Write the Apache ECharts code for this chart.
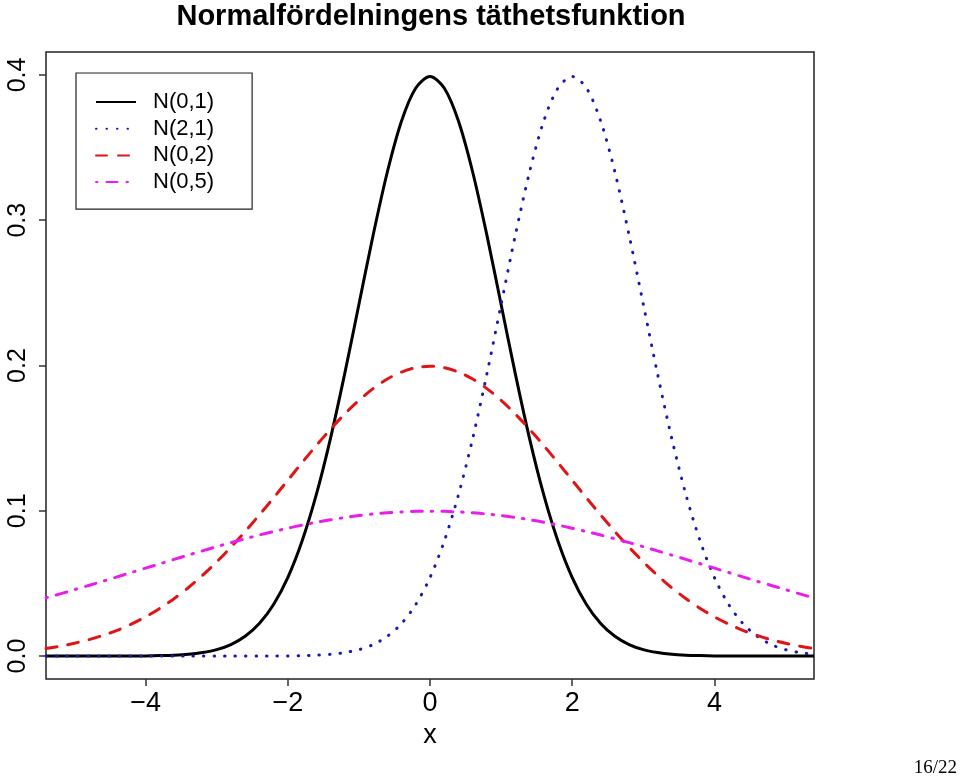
<!DOCTYPE html>
<html>
<head>
<meta charset="utf-8">
<script src="https://cdn.jsdelivr.net/npm/echarts@6/dist/echarts.min.js"></script>
<style>
html,body{margin:0;padding:0;background:#fff;}
#c{width:960px;height:779px;}
</style>
</head>
<body>
<div id="c"></div>
<script>
const titleText = 'Normalfördelningens täthetsfunktion';
const xName = 'x';
const pageLabel = '16/22';
const seriesNames = ['N(0,1)', 'N(2,1)', 'N(0,2)', 'N(0,5)'];
const xTicks = [-4, -2, 0, 2, 4];
const yTicks = [0, 0.1, 0.2, 0.3, 0.4];

const xs = [-5.4,-5.2,-5.0,-4.8,-4.6,-4.4,-4.2,-4.0,-3.8,-3.6,-3.4,-3.2,-3.0,-2.8,-2.6,-2.4,-2.2,-2.0,-1.8,-1.6,-1.4,-1.2,-1.0,-0.8,-0.6,-0.4,-0.2,0,
  0.2,0.4,0.6,0.8,1.0,1.2,1.4,1.6,1.8,2.0,2.2,2.4,2.6,2.8,3.0,3.2,3.4,3.6,3.8,4.0,4.2,4.4,4.6,4.8,5.0,5.2,5.4];

const n01 = [0,0,0,0,0,0,0,0.0001,0.0003,0.0006,0.0012,0.0024,0.0044,0.0079,0.0136,0.0224,0.0355,0.0540,0.0790,0.1109,0.1497,0.1942,0.2420,0.2897,0.3332,0.3683,0.3910,0.3989,
  0.3910,0.3683,0.3332,0.2897,0.2420,0.1942,0.1497,0.1109,0.0790,0.0540,0.0355,0.0224,0.0136,0.0079,0.0044,0.0024,0.0012,0.0006,0.0003,0.0001,0,0,0,0,0,0,0];

const n21 = [0,0,0,0,0,0,0,0,0,0,0,0,0,0,0,0,0,0.0001,0.0003,0.0006,0.0012,0.0024,0.0044,0.0079,0.0136,0.0224,0.0355,0.0540,
  0.0790,0.1109,0.1497,0.1942,0.2420,0.2897,0.3332,0.3683,0.3910,0.3989,0.3910,0.3683,0.3332,0.2897,0.2420,0.1942,0.1497,0.1109,0.0790,0.0540,0.0355,0.0224,0.0136,0.0079,0.0044,0.0024,0.0012];

const n02 = [0.0052,0.0068,0.0088,0.0112,0.0142,0.0177,0.0220,0.0270,0.0328,0.0395,0.0470,0.0555,0.0648,0.0749,0.0857,0.0971,0.1089,0.1210,0.1331,0.1449,0.1561,0.1666,0.1760,0.1841,0.1907,0.1955,0.1985,0.1995,
  0.1985,0.1955,0.1907,0.1841,0.1760,0.1666,0.1561,0.1449,0.1331,0.1210,0.1089,0.0971,0.0857,0.0749,0.0648,0.0555,0.0470,0.0395,0.0328,0.0270,0.0220,0.0177,0.0142,0.0112,0.0088,0.0068,0.0052];

const n05 = [0.0401,0.0428,0.0457,0.0486,0.0515,0.0545,0.0575,0.0605,0.0635,0.0665,0.0695,0.0724,0.0753,0.0781,0.0807,0.0833,0.0857,0.0880,0.0901,0.0921,0.0938,0.0954,0.0967,0.0978,0.0986,0.0992,0.0996,0.0997,
  0.0996,0.0992,0.0986,0.0978,0.0967,0.0954,0.0938,0.0921,0.0901,0.0880,0.0857,0.0833,0.0807,0.0781,0.0753,0.0724,0.0695,0.0665,0.0635,0.0605,0.0575,0.0545,0.0515,0.0486,0.0457,0.0428,0.0401];

const FONT = 'Liberation Sans';
const pairs = arr => xs.map((x, i) => [x, arr[i]]);

const styles = [
  {color: '#000000', width: 3, type: 'solid', cap: 'butt'},
  {color: '#1818b4', width: 3, type: [0.5, 10], cap: 'round'},
  {color: '#e01414', width: 3, type: [11, 11], cap: 'round'},
  {color: '#ea1eea', width: 3, type: [1.5, 9, 11, 9], cap: 'round'}
];
const values = [n01, n21, n02, n05];

const chart = echarts.init(document.getElementById('c'), null, {renderer: 'canvas'});
chart.setOption({
  animation: false,
  backgroundColor: '#ffffff',
  grid: {left: 46, right: 146, top: 52, bottom: 100, show: true, borderColor: '#222', borderWidth: 1.5, backgroundColor: 'transparent'},
  xAxis: {
    type: 'value', min: -5.4, max: 5.4,
    name: xName, nameLocation: 'middle', nameGap: 42,
    nameTextStyle: {fontFamily: FONT, fontSize: 27, color: '#000'},
    axisLine: {show: false, onZero: false},
    splitLine: {show: false},
    axisTick: {show: true, length: 7, customValues: xTicks, lineStyle: {color: '#333', width: 1.5}},
    axisLabel: {show: true, customValues: xTicks, margin: 11, fontFamily: FONT, fontSize: 27, color: '#000',
      formatter: v => (v < 0 ? '\u2212' + Math.abs(v) : String(v))}
  },
  yAxis: {
    type: 'value', min: -0.0158, max: 0.4158,
    axisLine: {show: false, onZero: false},
    splitLine: {show: false},
    axisTick: {show: true, length: 7, customValues: yTicks, lineStyle: {color: '#333', width: 1.5}},
    axisLabel: {show: true, customValues: yTicks, rotate: 90, margin: 15, fontFamily: FONT, fontSize: 25, color: '#000',
      formatter: v => Number(v).toFixed(1)}
  },
  legend: {
    show: true, orient: 'vertical', left: 76, top: 73,
    data: seriesNames,
    borderColor: '#222', borderWidth: 1.2, borderRadius: 0,
    padding: [18, 38, 16, 19],
    itemWidth: 40, itemHeight: 14, itemGap: 4.7,
    selectedMode: false,
    itemStyle: {opacity: 0},
    textStyle: {fontFamily: FONT, fontSize: 22, color: '#000', lineHeight: 21, padding: [0, 0, 0, 12]}
  },
  series: seriesNames.map((name, k) => ({
    name: name, type: 'line', data: pairs(values[k]),
    symbol: 'none', smooth: 0.3, clip: true,
    lineStyle: {color: styles[k].color, width: styles[k].width, type: styles[k].type, cap: styles[k].cap, join: 'round'},
    itemStyle: {color: styles[k].color},
    z: 2 + k
  })),
  graphic: [
    {type: 'text', x: 431, y: 17, style: {text: titleText, fontFamily: FONT, fontWeight: 'bold', fontSize: 29, fill: '#000', align: 'center', verticalAlign: 'middle'}},
    {type: 'text', x: 957, y: 768, style: {text: pageLabel, fontFamily: 'Liberation Serif', fontSize: 19, fill: '#000', align: 'right', verticalAlign: 'middle'}}
  ]
});
</script>
</body>
</html>
